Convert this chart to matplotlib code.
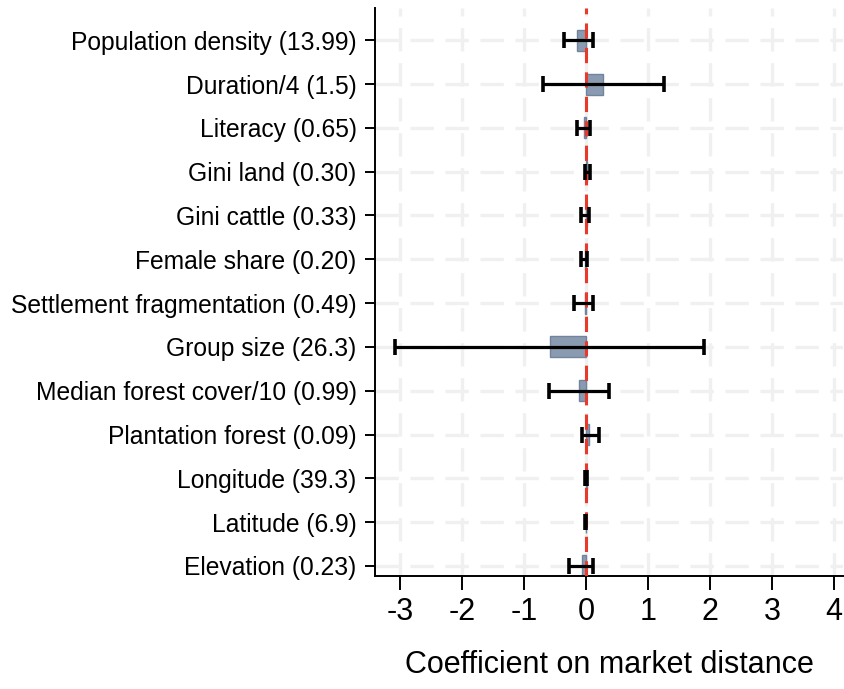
import matplotlib
matplotlib.use("Agg")
import matplotlib.pyplot as plt
import numpy as np

# variable labels, top to bottom
labels = [
    "Population density (13.99)",
    "Duration/4 (1.5)",
    "Literacy (0.65)",
    "Gini land (0.30)",
    "Gini cattle (0.33)",
    "Female share (0.20)",
    "Settlement fragmentation (0.49)",
    "Group size (26.3)",
    "Median forest cover/10 (0.99)",
    "Plantation forest (0.09)",
    "Longitude (39.3)",
    "Latitude (6.9)",
    "Elevation (0.23)",
]
coef = [-0.15, 0.28, -0.04, 0.02, 0.02, -0.01, -0.01, -0.58, -0.11, 0.05, 0.01, -0.005, -0.07]
ci_low = [-0.35, -0.69, -0.15, -0.02, -0.08, -0.08, -0.19, -3.09, -0.60, -0.07, -0.01, -0.01, -0.27]
ci_high = [0.11, 1.26, 0.065, 0.07, 0.05, 0.02, 0.12, 1.91, 0.37, 0.21, 0.02, 0.005, 0.11]
xticks = [-3, -2, -1, 0, 1, 2, 3, 4]

plt.rcParams['font.family'] = ['Liberation Sans', 'DejaVu Sans']

fig = plt.figure(figsize=(8.44, 6.89), dpi=100)
ax = fig.add_axes([0.444, 0.164, 0.555, 0.824])

y = np.arange(len(labels))
coef = np.array(coef)
lo = np.array(ci_low)
hi = np.array(ci_high)

# grid
for xv in xticks:
    ax.axvline(xv, color='#f0f0f0', lw=2.4, ls=(0, (7, 3.5)), zorder=0)
for yv in y:
    ax.axhline(yv, color='#f0f0f0', lw=2.4, ls=(0, (7, 3.5)), zorder=0)

ax.barh(y, coef, height=0.48, color='#8a9ab0', edgecolor='#71849e', lw=1, zorder=2)
ax.axvline(0, color='#e8392a', lw=2.2, ls=(0, (5, 3)), zorder=3)
ax.errorbar(coef, y, xerr=[coef - lo, hi - coef], fmt='none', ecolor='black',
            elinewidth=2.3, capsize=6, capthick=2.6, zorder=4)

ax.set_yticks(y)
ax.set_yticklabels(labels, fontsize=17.7)
ax.set_ylim(12.23, -0.73)
ax.set_xlim(-3.41, 4.15)
ax.set_xticks(xticks)
ax.set_xticklabels([str(v) for v in xticks], fontsize=22)
ax.set_xlabel("Coefficient on market distance", fontsize=22, labelpad=17)

ax.tick_params(axis='y', length=7, width=1.4, pad=6)
ax.tick_params(axis='x', length=10, width=1.4, pad=5)
for s in ['top', 'right']:
    ax.spines[s].set_visible(False)
for s in ['left', 'bottom']:
    ax.spines[s].set_linewidth(1.4)

fig.savefig("out.png", dpi=100)
